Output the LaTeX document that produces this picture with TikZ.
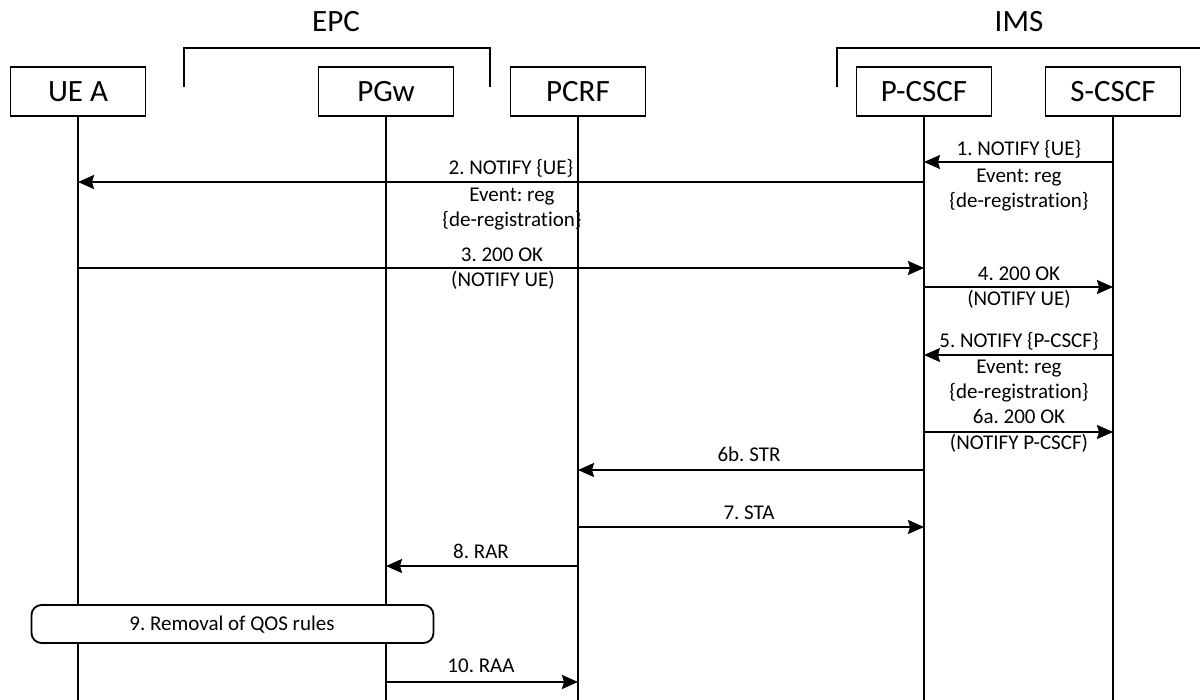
\documentclass[tikz,border=0pt]{standalone}
\usepackage{fontspec}
\setmainfont{Carlito}[Ligatures=NoCommon]
\frenchspacing
\usetikzlibrary{arrows.meta}
\newcommand{\msgfont}{\fontsize{21}{25}\selectfont}
\newcommand{\boxfont}{\fontsize{31}{36}\selectfont}
\begin{document}
\begin{tikzpicture}[x=1pt,y=-1pt,
  entity/.style={draw, line width=1.8pt, minimum width=135pt, minimum height=49pt, inner sep=0pt, font=\boxfont},
  life/.style={line width=1.8pt},
  msg/.style={line width=1.8pt, -{Stealth[length=16pt,width=14pt,inset=2pt]}},
  lbl/.style={font=\msgfont, anchor=base, inner sep=0pt},
  grp/.style={font=\boxfont, anchor=base, inner sep=0pt},
  bracket/.style={line width=1.8pt},
  action/.style={draw, fill=white, line width=1.8pt, rounded corners=10pt, inner sep=0pt}]
\useasboundingbox (0,0) rectangle (1200,700);
% group labels and brackets
\node[grp] (epc) at (336,32) {EPC};
\node[grp] (ims) at (1019,32) {IMS};
\draw[bracket] (184,87) -- (184,48) -- (490,48) -- (490,87);
\draw[bracket] (837,87) -- (837,48) -- (1201,48);
% entities
\node[entity] (ue) at (78,91.5) {UE A};
\node[entity] (pgw) at (386,91.5) {PGw};
\node[entity] (pcrf) at (578,91.5) {PCRF};
\node[entity] (pcscf) at (924,91.5) {P-CSCF};
\node[entity] (scscf) at (1113,91.5) {S-CSCF};
\coordinate (bottom) at (0,701);
\foreach \n in {ue,pgw,pcrf,pcscf,scscf}{\draw[life] (\n.south) -- (\n |- bottom);}
% message levels
\coordinate (y1) at (0,162);
\coordinate (y2) at (0,182);
\coordinate (y3) at (0,268);
\coordinate (y4) at (0,287);
\coordinate (y5) at (0,355);
\coordinate (y6a) at (0,432);
\coordinate (y6b) at (0,470);
\coordinate (y7) at (0,527);
\coordinate (y8) at (0,566);
\coordinate (y10) at (0,682);
% messages
\draw[msg] (scscf |- y1) -- (pcscf |- y1);
\node[lbl] (l1a) at (1019,156) {1. NOTIFY \{UE\}};
\node[lbl] (l1b) at (1019,183) {Event: reg};
\node[lbl] (l1c) at (1019,208) {\{de-registration\}};
\draw[msg] (pcscf |- y2) -- (ue |- y2);
\node[lbl] (l2a) at (511,175) {2. NOTIFY \{UE\}};
\node[lbl] (l2b) at (512,202) {Event: reg};
\node[lbl] (l2c) at (512,227) {\{de-registration\}};
\draw[msg] (ue |- y3) -- (pcscf |- y3);
\node[lbl] (l3a) at (502,262) {3. 200 OK};
\node[lbl] (l3b) at (503,287) {(NOTIFY UE)};
\draw[msg] (pcscf |- y4) -- (scscf |- y4);
\node[lbl] (l4a) at (1019,281) {4. 200 OK};
\node[lbl] (l4b) at (1019,306) {(NOTIFY UE)};
\draw[msg] (scscf |- y5) -- (pcscf |- y5);
\node[lbl] (l5a) at (1019,348) {5. NOTIFY \{P-CSCF\}};
\node[lbl] (l5b) at (1019,374) {Event: reg};
\node[lbl] (l5c) at (1019,399) {\{de-registration\}};
\draw[msg] (pcscf |- y6a) -- (scscf |- y6a);
\node[lbl] (l6a) at (1019,424) {6a. 200 OK};
\node[lbl] (l6b) at (1019,450) {(NOTIFY P-CSCF)};
\draw[msg] (pcscf |- y6b) -- (pcrf |- y6b);
\node[lbl] (l6c) at (749,461) {6b. STR};
\draw[msg] (pcrf |- y7) -- (pcscf |- y7);
\node[lbl] (l7) at (749,519) {7. STA};
\draw[msg] (pcrf |- y8) -- (pgw |- y8);
\node[lbl] (l8) at (481,558) {8. RAR};
\node[action, minimum width=402pt, minimum height=38pt] (rm) at (232.5,624) {};
\node[lbl] (l9) at (232,630) {9. Removal of QOS rules};
\draw[msg] (pgw |- y10) -- (pcrf |- y10);
\node[lbl] (l10) at (481,672) {10. RAA};
\end{tikzpicture}
\end{document}
